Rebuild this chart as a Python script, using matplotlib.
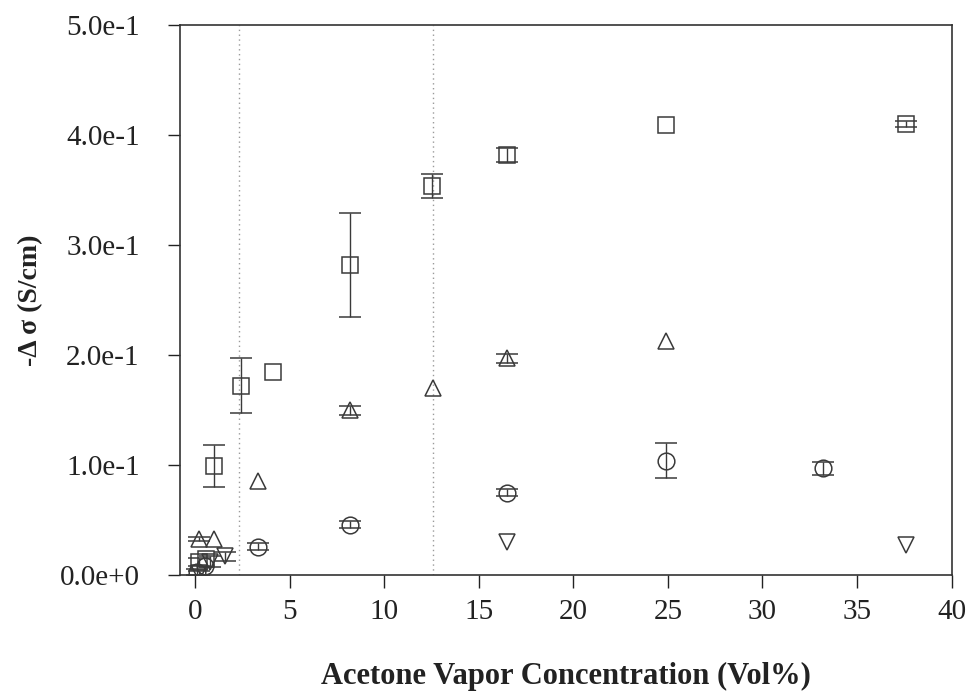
import matplotlib
matplotlib.use("Agg")
import matplotlib.pyplot as plt
import numpy as np

plt.rcParams['font.family'] = ['Liberation Serif', 'DejaVu Serif']

nan = np.nan
# Data
sq_x = [0.2, 0.6, 1.0, 2.4, 4.1, 8.2, 12.5, 16.5, 24.9, 37.6]
sq_y = [0.012, 0.015, 0.099, 0.172, 0.185, 0.282, 0.354, 0.382, 0.409, 0.410]
sq_e = [0.004, nan, 0.019, 0.025, nan, 0.047, 0.011, 0.006, nan, 0.003]

tu_x = [0.2, 1.0, 3.3, 8.2, 12.6, 16.5, 24.9]
tu_y = [0.033, 0.033, 0.086, 0.150, 0.170, 0.197, 0.213]
tu_e = [0.002, nan, nan, 0.004, nan, 0.004, nan]

ci_x = [0.1, 0.5, 3.3, 8.2, 16.5, 24.9, 33.2]
ci_y = [0.003, 0.008, 0.026, 0.046, 0.075, 0.104, 0.097]
ci_e = [0.003, nan, 0.003, 0.003, 0.003, 0.016, 0.006]

td_x = [0.2, 0.8, 1.6, 16.5, 37.6]
td_y = [0.002, 0.012, 0.017, 0.030, 0.027]
td_e = [0.002, 0.005, 0.004, nan, nan]

vlines_x = [2.3, 12.6]

x_ticks = [0, 5, 10, 15, 20, 25, 30, 35, 40]
y_ticks = [0.0, 0.1, 0.2, 0.3, 0.4, 0.5]
y_tick_labels = ['0.0e+0', '1.0e-1', '2.0e-1', '3.0e-1', '4.0e-1', '5.0e-1']

fig = plt.figure(figsize=(9.73, 6.98), dpi=100)
ax = fig.add_axes([0.185, 0.176, 0.793, 0.788])

for xv in vlines_x:
    ax.axvline(xv, color='#9a9a9a', linestyle=(0, (1, 2.5)), linewidth=1.0, zorder=1)

col = '#3a3a3a'
common = dict(linestyle='none', mfc='none', mec=col, ecolor=col, capsize=8,
              elinewidth=1.0, capthick=1.0, mew=1.1, zorder=3)
ax.errorbar(sq_x, sq_y, yerr=sq_e, marker='s', markersize=11, **common)
ax.errorbar(tu_x, tu_y, yerr=tu_e, marker='^', markersize=12, **common)
ax.errorbar(ci_x, ci_y, yerr=ci_e, marker='o', markersize=12, **common)
ax.errorbar(td_x, td_y, yerr=td_e, marker='v', markersize=12, **common)

ax.set_xlim(-0.8, 40)
ax.set_ylim(0, 0.5)
ax.set_xticks(x_ticks)
ax.set_xticklabels([str(t) for t in x_ticks])
ax.set_yticks(y_ticks)
ax.set_yticklabels(y_tick_labels)
ax.tick_params(direction='out', length=9, width=1.0, labelsize=21, colors='#222222')
ax.tick_params(axis='x', pad=8)
ax.tick_params(axis='y', pad=20)
for s in ax.spines.values():
    s.set_linewidth(1.2)
    s.set_color('#333333')

ax.set_xlabel('Acetone Vapor Concentration (Vol%)', fontsize=22, fontweight='bold', labelpad=27, color='#222222')
ax.set_ylabel('-Δ σ (S/cm)', fontsize=20, fontweight='bold', labelpad=12, color='#222222')

fig.savefig('out.png', dpi=100)
